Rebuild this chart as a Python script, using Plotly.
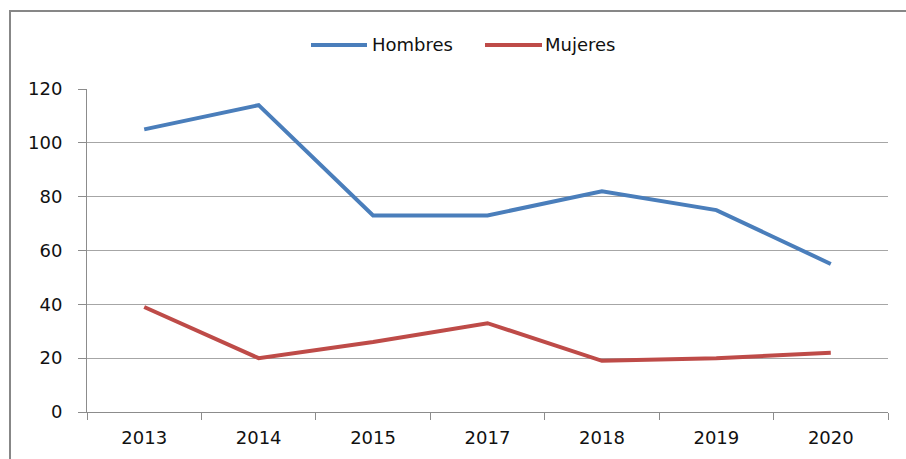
import plotly.graph_objects as go

# Datos por año
anios = ["2013", "2014", "2015", "2017", "2018", "2019", "2020"]
hombres = [105, 114, 73, 73, 82, 75, 55]
mujeres = [39, 20, 26, 33, 19, 20, 22]

series = [
    ("Hombres", hombres, "#4a7ebb"),
    ("Mujeres", mujeres, "#be4b48"),
]

W, H = 906, 459
L, R, T, B = 87, 18, 89, 47
pw, ph = W - L - R, H - T - B


def px_x(p):
    return (p - L) / pw


def px_y(p):
    return (H - B - p) / ph


fig = go.Figure()
for nombre, valores, color in series:
    fig.add_trace(go.Scatter(
        x=anios, y=valores, name=nombre, mode="lines",
        line=dict(color=color, width=4), showlegend=False,
    ))

shapes = []
annotations = []

# Leyenda dibujada a mano: trazo largo + texto
leyenda = [(311, 367, 370), (485, 542, 543)]
for (x0, x1, xt), (nombre, _, color) in zip(leyenda, series):
    shapes.append(dict(
        type="line", xref="paper", yref="paper",
        x0=px_x(x0), x1=px_x(x1), y0=px_y(45), y1=px_y(45),
        line=dict(color=color, width=4),
    ))
    annotations.append(dict(
        text=nombre, xref="paper", yref="paper",
        x=px_x(xt), y=px_y(45), xanchor="left", yanchor="middle",
        showarrow=False,
        font=dict(family="DejaVu Sans", size=18, color="#111111"),
    ))

# Marco gris del área del gráfico
shapes.append(dict(
    type="rect", xref="paper", yref="paper",
    x0=px_x(10), x1=px_x(940), y0=px_y(490), y1=px_y(11),
    line=dict(color="#878787", width=2), fillcolor="rgba(0,0,0,0)",
    layer="below",
))

fig.update_layout(
    width=W, height=H,
    margin=dict(l=L, r=R, t=T, b=B, autoexpand=False),
    paper_bgcolor="white", plot_bgcolor="white",
    shapes=shapes, annotations=annotations,
    showlegend=False,
    font=dict(family="DejaVu Sans", color="#111111"),
)
fig.update_xaxes(
    type="category", tickson="boundaries",
    range=[-0.5, len(anios) - 0.5],
    ticks="outside", ticklen=7, tickcolor="#8c8c8c",
    showline=True, linecolor="#8c8c8c", linewidth=1,
    showgrid=False, ticklabelstandoff=9,
    tickfont=dict(size=18, color="#111111"),
)
fig.update_yaxes(
    range=[0, 120], dtick=20, tick0=0,
    ticks="outside", ticklen=8, tickcolor="#8c8c8c",
    showline=True, linecolor="#8c8c8c", linewidth=1,
    showgrid=True, gridcolor="#a6a6a6", gridwidth=1,
    zeroline=False, ticklabelstandoff=12,
    tickfont=dict(size=18, color="#111111"),
)

fig.write_html("out.html")
